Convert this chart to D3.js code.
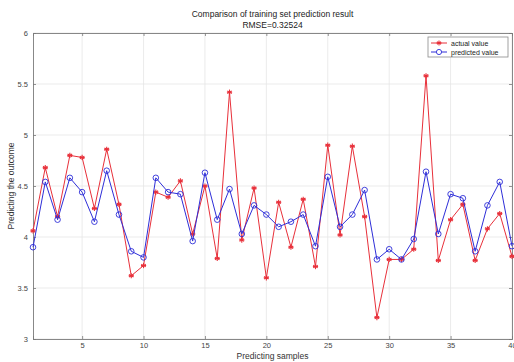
<!DOCTYPE html>
<html>
<head>
<meta charset="utf-8">
<script src="https://cdn.jsdelivr.net/npm/d3@7/dist/d3.min.js"></script>
<style>
  html, body { margin: 0; padding: 0; background: #ffffff; }
  svg { display: block; font-family: "Liberation Sans", Arial, sans-serif; }
</style>
</head>
<body>
<svg id="chart" width="514" height="362"></svg>
<script>
// Sample index 1..40
const samples = d3.range(1, 41);

// Measured (actual) values
const actualValues = [
  4.06, 4.68, 4.20, 4.80, 4.78, 4.28, 4.86, 4.32, 3.62, 3.72,
  4.44, 4.39, 4.55, 4.03, 4.50, 3.79, 5.42, 3.97, 4.48, 3.60,
  4.34, 3.90, 4.37, 3.71, 4.90, 4.02, 4.89, 4.20, 3.21, 3.78,
  3.78, 3.88, 5.58, 3.77, 4.17, 4.32, 3.77, 4.08, 4.23, 3.81
];

// Model predictions
const predictedValues = [
  3.90, 4.54, 4.17, 4.58, 4.44, 4.15, 4.65, 4.22, 3.86, 3.80,
  4.58, 4.44, 4.42, 3.96, 4.63, 4.17, 4.47, 4.03, 4.31, 4.22,
  4.10, 4.15, 4.22, 3.91, 4.59, 4.10, 4.22, 4.46, 3.78, 3.88,
  3.78, 3.98, 4.64, 4.03, 4.42, 4.38, 3.86, 4.31, 4.54, 3.91
];

const xTicks = [5, 10, 15, 20, 25, 30, 35, 40];
const yTicks = [3, 3.5, 4, 4.5, 5, 5.5, 6];
const seriesNames = ["actual value", "predicted value"];
const titleLines = ["Comparison of training set prediction result", "RMSE=0.32524"];

const svg = d3.select("#chart");
const margin = { left: 33, right: 2, top: 33, bottom: 23 };
const W = 514, H = 362;

const x = d3.scaleLinear().domain([1, 40]).range([margin.left, W - margin.right]);
const y = d3.scaleLinear().domain([3, 6]).range([H - margin.bottom, margin.top]);

const axisColor = "#7a7a7a";
const textColor = "#444";
const red = "#e8303a";
const blue = "#2e2ed8";

// Grid lines
const grid = svg.append("g");
grid.selectAll("line.gx").data(xTicks).join("line")
  .attr("x1", d => x(d)).attr("x2", d => x(d))
  .attr("y1", y(3)).attr("y2", y(6))
  .attr("stroke", "#e6e6e6").attr("stroke-width", 0.8);
grid.selectAll("line.gy").data(yTicks).join("line")
  .attr("x1", x(1)).attr("x2", x(40))
  .attr("y1", d => y(d)).attr("y2", d => y(d))
  .attr("stroke", "#e6e6e6").attr("stroke-width", 0.8);

// Axes
const xAxis = d3.axisBottom(x).tickValues(xTicks).tickSize(-3).tickPadding(4);
const yAxis = d3.axisLeft(y).tickValues(yTicks).tickSize(-3).tickPadding(5)
  .tickFormat(d3.format("~g"));

const gx = svg.append("g").attr("transform", `translate(0,${y(3)})`).call(xAxis);
const gy = svg.append("g").attr("transform", `translate(${x(1)},0)`).call(yAxis);
// Top and right ticks (boxed axes)
const gxTop = svg.append("g").attr("transform", `translate(0,${y(6)})`)
  .call(d3.axisTop(x).tickValues(xTicks).tickSize(-3).tickFormat(""));
const gyRight = svg.append("g").attr("transform", `translate(${x(40)},0)`)
  .call(d3.axisRight(y).tickValues(yTicks).tickSize(-3).tickFormat(""));

[gx, gy, gxTop, gyRight].forEach(g => {
  g.select(".domain").attr("stroke", axisColor).attr("stroke-width", 0.9);
  g.selectAll(".tick line").attr("stroke", axisColor).attr("stroke-width", 0.8);
  g.selectAll(".tick text").attr("fill", textColor).attr("font-size", 7.5);
});

// Axis labels
svg.append("text").attr("x", (x(1) + x(40)) / 2).attr("y", 358.5)
  .attr("text-anchor", "middle").attr("font-size", 8.5).attr("fill", "#333")
  .text("Predicting samples");
svg.append("text")
  .attr("transform", `translate(14,${(y(3) + y(6)) / 2}) rotate(-90)`)
  .attr("text-anchor", "middle").attr("font-size", 8.5).attr("fill", "#333")
  .text("Predicting the outcome");

// Title
svg.selectAll("text.title").data(titleLines).join("text")
  .attr("class", "title")
  .attr("x", (x(1) + x(40)) / 2).attr("y", (d, i) => 17 + i * 11)
  .attr("text-anchor", "middle").attr("font-size", 8.5).attr("fill", "#222")
  .text(d => d);

// Series
const line = d3.line().x((d, i) => x(samples[i])).y(d => y(d));

function asterisk(g, cx, cy, r, color) {
  [0, 60, 120].forEach(a => {
    const rad = a * Math.PI / 180;
    g.append("line")
      .attr("x1", cx - r * Math.sin(rad)).attr("y1", cy - r * Math.cos(rad))
      .attr("x2", cx + r * Math.sin(rad)).attr("y2", cy + r * Math.cos(rad))
      .attr("stroke", color).attr("stroke-width", 1.1);
  });
  g.append("line").attr("x1", cx - r).attr("x2", cx + r).attr("y1", cy).attr("y2", cy)
    .attr("stroke", color).attr("stroke-width", 1.1);
}

// Actual series: red line with asterisk markers
svg.append("path").datum(actualValues).attr("d", line)
  .attr("fill", "none").attr("stroke", red).attr("stroke-width", 1);
const am = svg.append("g");
actualValues.forEach((v, i) => asterisk(am, x(samples[i]), y(v), 2.6, red));

// Predicted series: blue line with open circle markers
svg.append("path").datum(predictedValues).attr("d", line)
  .attr("fill", "none").attr("stroke", blue).attr("stroke-width", 1);
svg.append("g").selectAll("circle").data(predictedValues).join("circle")
  .attr("cx", (d, i) => x(samples[i])).attr("cy", d => y(d)).attr("r", 2.8)
  .attr("fill", "none").attr("stroke", blue).attr("stroke-width", 0.9);

// Legend
const lg = svg.append("g").attr("transform", "translate(428,37)");
lg.append("rect").attr("width", 80).attr("height", 20)
  .attr("fill", "#fff").attr("stroke", "#8a8a8a").attr("stroke-width", 0.8);
seriesNames.forEach((name, i) => {
  const yy = 6 + i * 9;
  const color = i === 0 ? red : blue;
  lg.append("line").attr("x1", 3).attr("x2", 19).attr("y1", yy).attr("y2", yy)
    .attr("stroke", color).attr("stroke-width", 1);
  if (i === 0) asterisk(lg, 11, yy, 2.4, red);
  else lg.append("circle").attr("cx", 11).attr("cy", yy).attr("r", 2.6)
    .attr("fill", "#fff").attr("stroke", blue).attr("stroke-width", 0.9);
  lg.append("text").attr("x", 23).attr("y", yy + 2.5).attr("font-size", 7)
    .attr("fill", "#222").text(name);
});
</script>
</body>
</html>
